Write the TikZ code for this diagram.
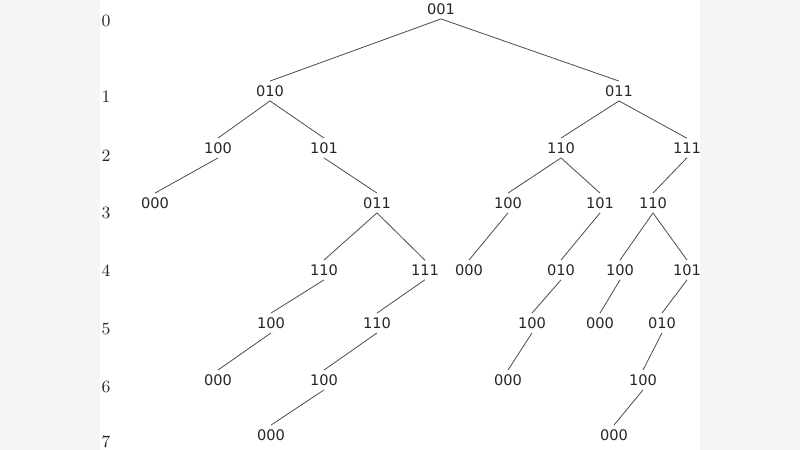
\documentclass[tikz,border=0pt]{standalone}
\usepackage{fontspec}
\usepackage{tikz}
\usetikzlibrary{positioning}
\newfontfamily\bitfont{DejaVu Sans}
\newcommand{\lvl}[1]{\fontsize{8.6}{10}\selectfont #1}

\begin{document}
\begin{tikzpicture}[x=0.5pt,y=-0.5pt,
  state/.style={font=\bitfont\fontsize{7.3}{8}\selectfont,text=black!85,inner sep=2pt,on grid},
  level/.style={text=black!85,inner sep=0pt,on grid},
  edge/.style={black!70,line width=0.4pt}]
\useasboundingbox (0,0) rectangle (800,450);
\fill[black!4] (0,0) rectangle (100,450);
\fill[black!4] (700,0) rectangle (800,450);
\fill[white] (100,0) rectangle (700,450);

%the depth numbers
\node [level] (l0) at (106,21) {\lvl{0}};
\node [level,below=38pt of l0] (l1) {\lvl{1}};
\node [level,below=29.5pt of l1] (l2) {\lvl{2}};
\node [level,below=28.5pt of l2] (l3) {\lvl{3}};
\node [level,below=29pt of l3] (l4) {\lvl{4}};
\node [level,below=29pt of l4] (l5) {\lvl{5}};
\node [level,below=29pt of l5] (l6) {\lvl{6}};
\node [level,below=27.5pt of l6] (l7) {\lvl{7}};

%the nodes of the tree
\node [state] (root) at (441,9) {001};
\node [state,below left=41pt and 85.5pt of root] (a1) {010};
\node [state,below right=41pt and 89pt of root] (a2) {011};
\node [state,below left=28.5pt and 26pt of a1] (b1) {100};
\node [state,below right=28.5pt and 27pt of a1] (b2) {101};
\node [state,below left=28.5pt and 29pt of a2] (b3) {110};
\node [state,below right=28.5pt and 34pt of a2] (b4) {111};
\node [state,below left=27.5pt and 31.5pt of b1] (c1) {000};
\node [state,below right=27.5pt and 26.5pt of b2] (c2) {011};
\node [state,below left=27.5pt and 26.5pt of b3] (c3) {100};
\node [state,below right=27.5pt and 19.5pt of b3] (c4) {101};
\node [state,below left=27.5pt and 17pt of b4] (c5) {110};
\node [state,below left=33.5pt and 26.5pt of c2] (d1) {110};
\node [state,below right=33.5pt and 24pt of c2] (d2) {111};
\node [state,below left=33.5pt and 19.5pt of c3] (d3) {000};
\node [state,below left=33.5pt and 19.5pt of c4] (d4) {010};
\node [state,below left=33.5pt and 16.5pt of c5] (d5) {100};
\node [state,below right=33.5pt and 17pt of c5] (d6) {101};
\node [state,below left=26.5pt and 26.5pt of d1] (e1) {100};
\node [state,below left=26.5pt and 24pt of d2] (e2) {110};
\node [state,below left=26.5pt and 14.5pt of d4] (e3) {100};
\node [state,below left=26.5pt and 10pt of d5] (e4) {000};
\node [state,below left=26.5pt and 12.5pt of d6] (e5) {010};
\node [state,below left=28.5pt and 26.5pt of e1] (f1) {000};
\node [state,below left=28.5pt and 26.5pt of e2] (f2) {100};
\node [state,below left=28.5pt and 12pt of e3] (f3) {000};
\node [state,below left=28.5pt and 9.5pt of e5] (f4) {100};
\node [state,below left=27.5pt and 26.5pt of f2] (g1) {000};
\node [state,below left=27.5pt and 14.5pt of f4] (g2) {000};

%the branches
\draw[edge] (root.south) -- (a1.north);
\draw[edge] (root.south) -- (a2.north);

\draw[edge] (a1.south) -- (b1.north);
\draw[edge] (a1.south) -- (b2.north);
\draw[edge] (a2.south) -- (b3.north);
\draw[edge] (a2.south) -- (b4.north);

\draw[edge] (b1.south) -- (c1.north);
\draw[edge] (b2.south) -- (c2.north);
\draw[edge] (b3.south) -- (c3.north);
\draw[edge] (b3.south) -- (c4.north);
\draw[edge] (b4.south) -- (c5.north);

\draw[edge] (c2.south) -- (d1.north);
\draw[edge] (c2.south) -- (d2.north);
\draw[edge] (c3.south) -- (d3.north);
\draw[edge] (c4.south) -- (d4.north);
\draw[edge] (c5.south) -- (d5.north);
\draw[edge] (c5.south) -- (d6.north);

\draw[edge] (d1.south) -- (e1.north);
\draw[edge] (d2.south) -- (e2.north);
\draw[edge] (d4.south) -- (e3.north);
\draw[edge] (d5.south) -- (e4.north);
\draw[edge] (d6.south) -- (e5.north);

\draw[edge] (e1.south) -- (f1.north);
\draw[edge] (e2.south) -- (f2.north);
\draw[edge] (e3.south) -- (f3.north);
\draw[edge] (e5.south) -- (f4.north);

\draw[edge] (f2.south) -- (g1.north);
\draw[edge] (f4.south) -- (g2.north);

\end{tikzpicture}
\end{document}
